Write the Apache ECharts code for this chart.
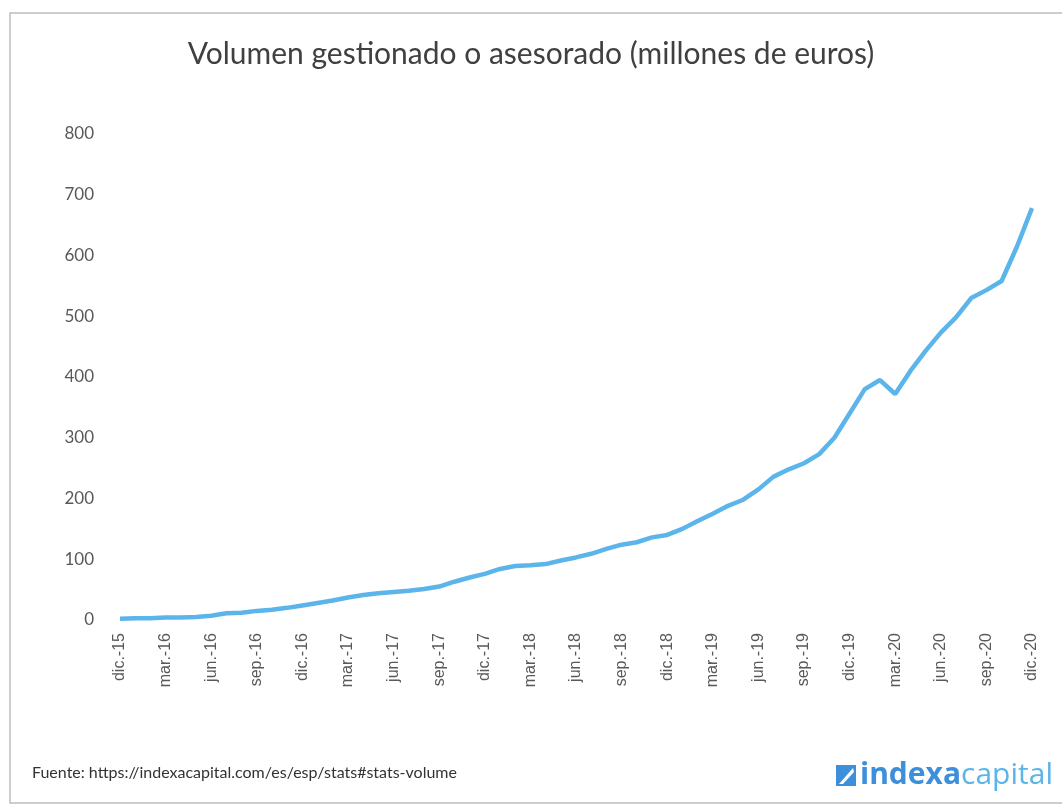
<!DOCTYPE html>
<html>
<head>
<meta charset="utf-8">
<script src="https://cdn.jsdelivr.net/npm/echarts@6/dist/echarts.min.js"></script>
<style>
  html, body { margin: 0; padding: 0; background: #ffffff; }
  #chart { width: 1062px; height: 810px; }
</style>
</head>
<body>
<div id="chart"></div>
<script>
// Monthly managed/advised volume, Dec 2015 – Dec 2020 (millions of euros)
const months = [
  'dic.-15',
  'ene.-16', 'feb.-16', 'mar.-16', 'abr.-16', 'may.-16', 'jun.-16', 'jul.-16', 'ago.-16', 'sep.-16', 'oct.-16', 'nov.-16', 'dic.-16',
  'ene.-17', 'feb.-17', 'mar.-17', 'abr.-17', 'may.-17', 'jun.-17', 'jul.-17', 'ago.-17', 'sep.-17', 'oct.-17', 'nov.-17', 'dic.-17',
  'ene.-18', 'feb.-18', 'mar.-18', 'abr.-18', 'may.-18', 'jun.-18', 'jul.-18', 'ago.-18', 'sep.-18', 'oct.-18', 'nov.-18', 'dic.-18',
  'ene.-19', 'feb.-19', 'mar.-19', 'abr.-19', 'may.-19', 'jun.-19', 'jul.-19', 'ago.-19', 'sep.-19', 'oct.-19', 'nov.-19', 'dic.-19',
  'ene.-20', 'feb.-20', 'mar.-20', 'abr.-20', 'may.-20', 'jun.-20', 'jul.-20', 'ago.-20', 'sep.-20', 'oct.-20', 'nov.-20', 'dic.-20'
];

const volume = [
  2,
  3, 3, 4, 4, 5, 7, 11, 12, 15, 17, 20, 24,
  28, 32, 37, 41, 44, 46, 48, 51, 55, 63, 70, 76,
  84, 89, 90, 92, 98, 103, 109, 117, 124, 128, 136, 140,
  150, 163, 175, 188, 198, 215, 236, 248, 258, 273, 300, 340,
  380, 395, 372, 410, 443, 473, 498, 530, 543, 558, 614, 678
];

const yTicks = [0, 100, 200, 300, 400, 500, 600, 700, 800];

const chart = echarts.init(document.getElementById('chart'));

chart.setOption({
  backgroundColor: '#ffffff',
  animation: false,
  title: {
    text: 'Volumen gestionado o asesorado (millones de euros)',
    left: 'center',
    top: 34,
    textStyle: {
      fontFamily: 'Lato, "Open Sans", sans-serif',
      fontSize: 30,
      fontWeight: 'normal',
      color: '#404040'
    }
  },
  grid: {
    left: 120,
    right: 30,
    top: 134,
    bottom: 190,
    containLabel: false
  },
  xAxis: {
    type: 'category',
    data: months,
    boundaryGap: false,
    axisLine: { show: false },
    axisTick: { show: false },
    splitLine: { show: false },
    axisLabel: {
      interval: 2,
      rotate: 90,
      margin: 13,
      fontFamily: '"Liberation Sans", Arial, sans-serif',
      fontSize: 16,
      color: '#595959'
    }
  },
  yAxis: {
    type: 'value',
    min: yTicks[0],
    max: yTicks[yTicks.length - 1],
    interval: 100,
    axisLine: { show: false },
    axisTick: { show: false },
    splitLine: { show: false },
    axisLabel: {
      margin: 26,
      fontFamily: 'Lato, "Open Sans", sans-serif',
      fontSize: 17,
      color: '#595959'
    }
  },
  series: [{
    type: 'line',
    data: volume,
    showSymbol: false,
    smooth: false,
    lineStyle: { color: '#5bb5ea', width: 4.5 },
    itemStyle: { color: '#5bb5ea' }
  }],
  graphic: [
    {
      type: 'rect',
      shape: { x: 10, y: 13, width: 1060, height: 790 },
      style: { fill: 'none', stroke: '#bdbdbd', lineWidth: 1.5 },
      silent: true
    },
    {
      type: 'text',
      left: 32,
      top: 765,
      style: {
        text: 'Fuente: https://indexacapital.com/es/esp/stats#stats-volume',
        fontFamily: 'Lato, "Open Sans", sans-serif',
        fontSize: 16,
        fill: '#333333'
      }
    },
    {
      type: 'group',
      left: 836,
      top: 760,
      children: [
        {
          type: 'rect',
          shape: { x: 0, y: 5, width: 20, height: 21 },
          style: { fill: '#3d8fdb' }
        },
        {
          type: 'polygon',
          shape: { points: [[3, 24], [17, 8], [18, 12], [7, 24]] },
          style: { fill: '#ffffff' }
        },
        {
          type: 'text',
          x: 24,
          y: 0,
          style: {
            text: '{a|indexa}{b|capital}',
            rich: {
              a: { fontFamily: '"Open Sans", Lato, sans-serif', fontSize: 30, fontWeight: 'bold', fill: '#3d8fdb' },
              b: { fontFamily: '"Open Sans", Lato, sans-serif', fontSize: 30, fill: '#5bb5ea' }
            }
          }
        }
      ]
    }
  ]
});
</script>
</body>
</html>
